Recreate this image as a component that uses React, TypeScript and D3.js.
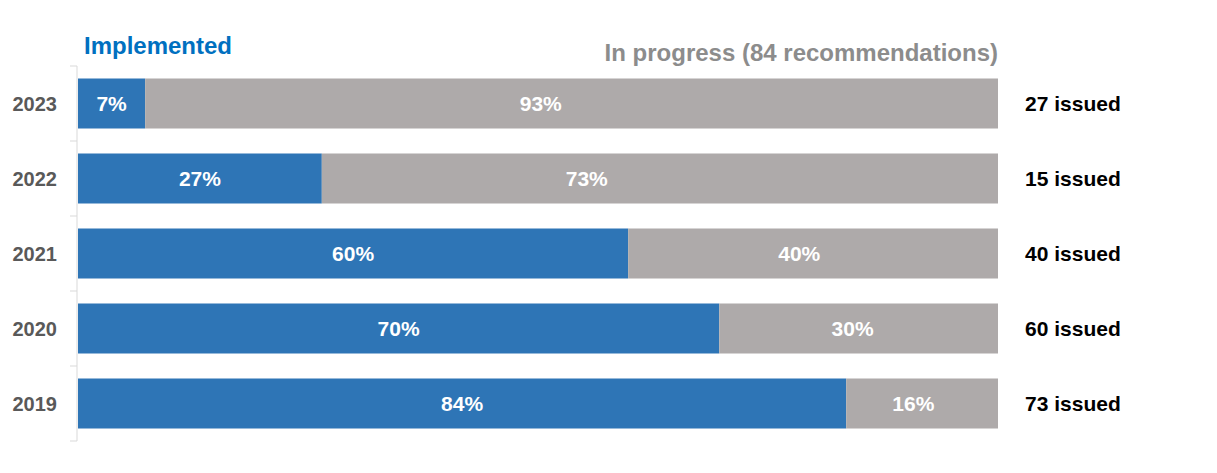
import React from "react";
import * as d3 from "d3";

const years = ["2023", "2022", "2021", "2020", "2019"];
// implemented share as drawn (percent of bar length)
const implementedShare = [7.3, 26.5, 59.8, 69.7, 83.5];
// labels printed on the bars
const implementedLabels = ["7%", "27%", "60%", "70%", "84%"];
const inProgressLabels = ["93%", "73%", "40%", "30%", "16%"];
const issued = [27, 15, 40, 60, 73];
// where the grey labels sit along the axis (percent)
const grayLabelAt = [50.3, 55.3, 78.4, 84.2, 90.8];

const W = 1217;
const H = 473;
const FONT = "'Liberation Sans', Arial, sans-serif";

export default function App() {
  const x = d3.scaleLinear().domain([0, 100]).range([78, 998]);
  const y = d3.scaleBand<string>().domain(years).range([66, 441]).paddingInner(1 / 3).paddingOuter(1 / 6);
  const bounds = d3.range(years.length + 1).map((i) => 66 + i * y.step());

  return (
    <svg width={W} height={H} style={{ position: "absolute", left: 0, top: 0, background: "#fff" }}>
      <g fontFamily={FONT} fontWeight="bold">
        <line x1={77} x2={77} y1={bounds[0]} y2={bounds[bounds.length - 1]} stroke="#d9d9d9" strokeWidth={1} />
        {bounds.map((b, i) => (
          <line key={i} x1={70} x2={77} y1={b} y2={b} stroke="#d9d9d9" strokeWidth={1} />
        ))}
        {years.map((yr, i) => {
          const by = y(yr)!;
          const bh = y.bandwidth();
          const cy = by + bh / 2;
          const xs = x(implementedShare[i]);
          return (
            <g key={yr}>
              <rect x={x(0)} y={by} width={xs - x(0)} height={bh} fill="#2E75B6" />
              <rect x={xs} y={by} width={x(100) - xs} height={bh} fill="#AEAAAA" />
              <text x={(x(0) + xs) / 2} y={cy} dy="0.36em" textAnchor="middle" fill="#fff" fontSize={21}>
                {implementedLabels[i]}
              </text>
              <text x={x(grayLabelAt[i])} y={cy} dy="0.36em" textAnchor="middle" fill="#fff" fontSize={21}>
                {inProgressLabels[i]}
              </text>
              <text x={57} y={cy} dy="0.36em" textAnchor="end" fill="#595959" fontSize={20}>
                {yr}
              </text>
              <text x={1025} y={cy} dy="0.36em" textAnchor="start" fill="#000" fontSize={21}>
                {issued[i]} issued
              </text>
            </g>
          );
        })}
        <text x={84} y={54} fill="#0070C0" fontSize={24}>
          Implemented
        </text>
        <text x={998} y={61} textAnchor="end" fill="#8C8C8C" fontSize={24}>
          In progress (84 recommendations)
        </text>
      </g>
    </svg>
  );
}
